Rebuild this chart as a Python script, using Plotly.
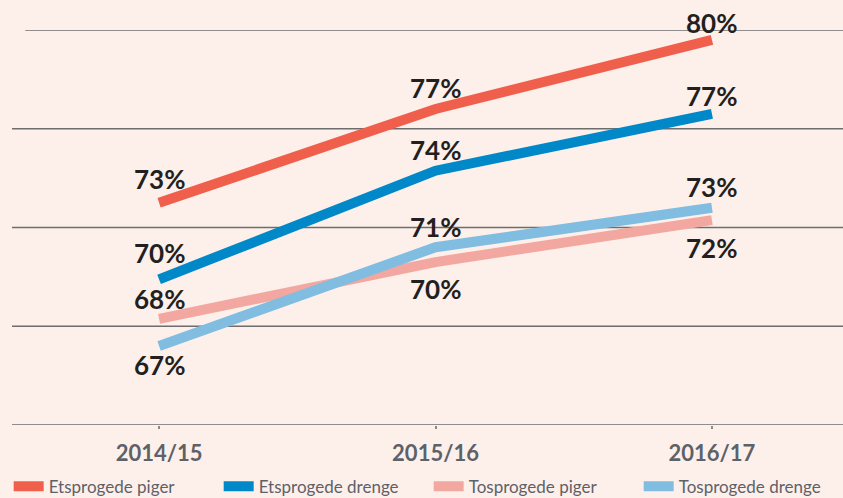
import plotly.graph_objects as go

# ---- data ----
categories = ["2014/15", "2015/16", "2016/17"]
series_names = ["Etsprogede piger", "Etsprogede drenge", "Tosprogede piger", "Tosprogede drenge"]
etsprogede_piger = [73.0, 76.8, 79.6]
etsprogede_drenge = [69.9, 74.3, 76.6]
tosprogede_piger = [68.3, 70.6, 72.3]
tosprogede_drenge = [67.2, 71.2, 72.8]
label_piger_et = ["73%", "77%", "80%"]
label_drenge_et = ["70%", "74%", "77%"]
label_piger_to = ["68%", "70%", "72%"]
label_drenge_to = ["67%", "71%", "73%"]
grid_values = [64, 68, 72, 76, 80]

values = [etsprogede_piger, etsprogede_drenge, tosprogede_piger, tosprogede_drenge]
labels = [label_piger_et, label_drenge_et, label_piger_to, label_drenge_to]

# ---- styling ----
colors = ["#ef5f4b", "#0088c9", "#f2a8a0", "#80bde1"]
label_shift = [
    [24, 21, 17],
    [26, 21, 18],
    [20, -27, -28],
    [-19, 20, 21],
]
bg = "#fdf0eb"
xs = list(range(len(categories)))

fig = go.Figure()
for name, vals, col in zip(series_names, values, colors):
    fig.add_trace(go.Scatter(
        x=xs, y=vals, name=name, mode="lines",
        line=dict(color=col, width=10),
        hoverinfo="skip",
    ))

annotations = []
for vals, labs, shifts in zip(values, labels, label_shift):
    for xi, v, lab, sh in zip(xs, vals, labs, shifts):
        annotations.append(dict(
            x=xi, y=v, xref="x", yref="y", text=lab, showarrow=False,
            yshift=sh, xanchor="center", yanchor="middle",
            font=dict(family="Lato", size=26, color="#231f20", weight="bold"),
        ))

shapes = []
for g in grid_values:
    shapes.append(dict(
        type="line", xref="paper", yref="y",
        x0=0.016 if g == max(grid_values) else 0.0, x1=1.0, y0=g, y1=g,
        line=dict(color="#6d6d6d", width=1.6), layer="below",
    ))

fig.update_layout(
    width=843, height=498,
    paper_bgcolor=bg, plot_bgcolor=bg,
    margin=dict(l=12, r=0, t=30, b=73, autoexpand=False),
    showlegend=True,
    legend=dict(
        orientation="h", x=-0.004, xanchor="left", y=-0.156, yanchor="middle",
        font=dict(family="Lato", size=17, color="#5d6168"),
        bgcolor="rgba(0,0,0,0)", itemwidth=30,
        entrywidth=165, entrywidthmode="pixels",
    ),
    annotations=annotations,
    shapes=shapes,
)
fig.update_xaxes(
    range=[-0.532, 2.474], tickvals=xs, ticktext=categories,
    showgrid=False, zeroline=False, showline=False,
    ticks="outside", ticklen=3, tickwidth=2, tickcolor="#8a8a8a",
    ticklabelstandoff=6,
    tickfont=dict(family="Lato", size=22, color="#5d6168", weight="bold"),
)
fig.update_yaxes(
    range=[64, 80], showgrid=False, zeroline=False, showline=False,
    showticklabels=False,
)
fig.update_traces(cliponaxis=False)

fig.write_html(
    "out.html",
    config={"displayModeBar": False},
    post_script="document.body.style.margin='0';document.body.style.background='%s';" % bg,
)
